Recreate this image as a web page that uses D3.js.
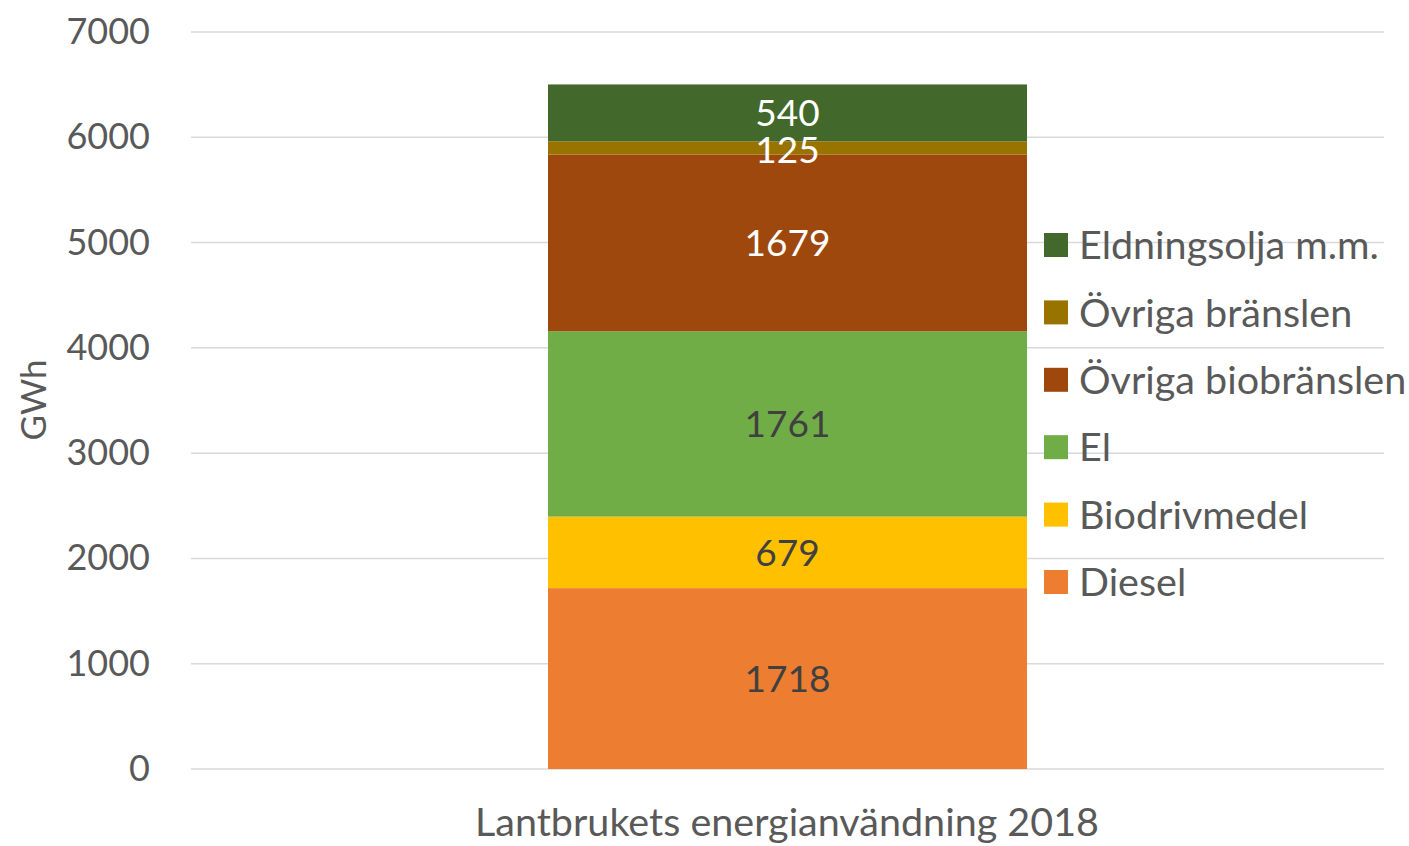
<!DOCTYPE html>
<html><head><meta charset="utf-8">
<script src="https://cdn.jsdelivr.net/npm/d3@7"></script>
<style>body{margin:0;background:#fff}svg{display:block;font-family:Lato,"Open Sans",sans-serif}</style>
</head><body><svg id="c" width="1409" height="846"></svg>
<script>
const category = "Lantbrukets energianvändning 2018";
const series = ["Diesel","Biodrivmedel","El","Övriga biobränslen","Övriga bränslen","Eldningsolja m.m."];
const values = [1718, 679, 1761, 1679, 125, 540];
const colors = ["#ED7D31","#FFC000","#70AD47","#9E480E","#997300","#43682B"];
const labelColors = ["#404040","#404040","#404040","#ffffff","#ffffff","#ffffff"];
const yTicks = [0,1000,2000,3000,4000,5000,6000,7000];
const yTitle = "GWh";

const svg = d3.select("#c");
const x0 = 191, x1 = 1384, yTop = 32, yBot = 769;
const y = d3.scaleLinear().domain([0,7000]).range([yBot,yTop]);
const x = d3.scaleBand().domain([category]).range([548,1027]);

// gridlines
svg.append("g").selectAll("line").data(yTicks).join("line")
  .attr("x1",x0).attr("x2",x1).attr("y1",d=>y(d)).attr("y2",d=>y(d))
  .attr("stroke","#d9d9d9").attr("stroke-width",1.5);

// y axis tick labels
const yAxis = d3.axisLeft(y).tickValues(yTicks).tickSize(0).tickPadding(0).tickFormat(d3.format("d"));
const ga = svg.append("g").attr("transform","translate(150,0)").call(yAxis);
ga.select(".domain").remove();
ga.selectAll("text").attr("font-size",36).attr("fill","#595959").attr("font-family","Lato,sans-serif");

// axis title
svg.append("text").attr("transform","translate(46,400) rotate(-90)")
  .attr("text-anchor","middle").attr("font-size",35).attr("fill","#595959").text(yTitle);

// stacked bars
let cum = 0;
const stack = values.map((v,i)=>{const s={name:series[i],v,y0:cum,y1:cum+v,i}; cum+=v; return s;});
svg.append("g").selectAll("rect").data(stack).join("rect")
  .attr("x",x(category)).attr("width",x.bandwidth())
  .attr("y",d=>y(d.y1)).attr("height",d=>y(d.y0)-y(d.y1))
  .attr("fill",d=>colors[d.i]);

svg.append("g").selectAll("text").data(stack).join("text")
  .attr("x",x(category)+x.bandwidth()/2).attr("y",d=>y((d.y0+d.y1)/2)+(d.i===4?2:0)).attr("dy","0.36em")
  .attr("text-anchor","middle").attr("font-size",37).attr("fill",d=>labelColors[d.i])
  .text(d=>d.v);

// x axis label
svg.append("text").attr("x",787).attr("y",836).attr("text-anchor","middle")
  .attr("font-size",39.5).attr("fill","#595959").text(category);

// legend (reverse order)
const leg = svg.append("g");
const legItems = series.map((s,i)=>({s,i})).reverse();
const legY = d3.scalePoint().domain(legItems.map(d=>d.s)).range([245,582]);
legItems.forEach(d=>{
  const yy = legY(d.s);
  leg.append("rect").attr("x",1044).attr("y",yy-12).attr("width",24).attr("height",24).attr("fill",colors[d.i]);
  leg.append("text").attr("x",1079).attr("y",yy).attr("dy","0.36em").attr("font-size",39.5)
    .attr("fill","#595959").text(d.s);
});
</script></body></html>
